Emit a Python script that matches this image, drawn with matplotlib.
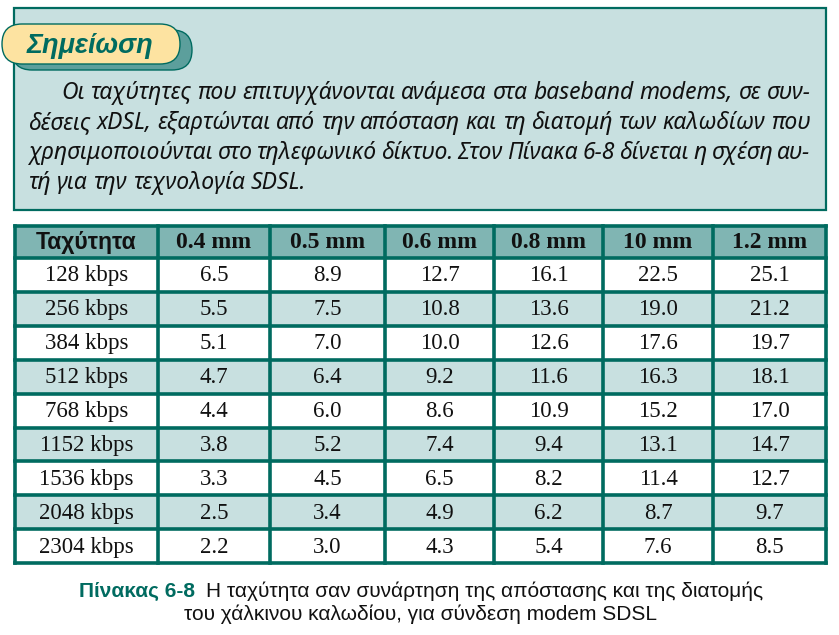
import matplotlib
matplotlib.use("Agg")
import matplotlib.pyplot as plt
from matplotlib.patches import Rectangle, FancyBboxPatch
from matplotlib import font_manager

# --- data ---
note_title = "Σημείωση"
note_lines = [
    "Οι ταχύτητες που επιτυγχάνονται ανάμεσα στα baseband modems, σε συν-",
    "δέσεις xDSL, εξαρτώνται από την απόσταση και τη διατομή των καλωδίων που",
    "χρησιμοποιούνται στο τηλεφωνικό δίκτυο. Στον Πίνακα 6-8 δίνεται η σχέση αυ-",
    "τή για την τεχνολογία SDSL.",
]
columns = ["Ταχύτητα", "0.4 mm", "0.5 mm", "0.6 mm", "0.8 mm", "10 mm", "1.2 mm"]
speeds = ["128 kbps", "256 kbps", "384 kbps", "512 kbps", "768 kbps",
          "1152 kbps", "1536 kbps", "2048 kbps", "2304 kbps"]
d04 = [6.5, 5.5, 5.1, 4.7, 4.4, 3.8, 3.3, 2.5, 2.2]
d05 = [8.9, 7.5, 7.0, 6.4, 6.0, 5.2, 4.5, 3.4, 3.0]
d06 = [12.7, 10.8, 10.0, 9.2, 8.6, 7.4, 6.5, 4.9, 4.3]
d08 = [16.1, 13.6, 12.6, 11.6, 10.9, 9.4, 8.2, 6.2, 5.4]
d10 = [22.5, 19.0, 17.6, 16.3, 15.2, 13.1, 11.4, 8.7, 7.6]
d12 = [25.1, 21.2, 19.7, 18.1, 17.0, 14.7, 12.7, 9.7, 8.5]
caption_label = "Πίνακας 6-8"
caption_line1 = "Η ταχύτητα σαν συνάρτηση της απόστασης και της διατομής"
caption_line2 = "του χάλκινου καλωδίου, για σύνδεση modem SDSL"

# --- colours ---
teal = "#006b60"
light = "#c8e0e0"
header_bg = "#80b5b3"
pill_bg = "#fde3a1"
pill_shadow = "#5c9f9c"


def has_font(name):
    try:
        font_manager.findfont(name, fallback_to_default=False)
        return True
    except Exception:
        return False


narrow = "Liberation Sans Narrow" if has_font("Liberation Sans Narrow") else "Liberation Sans"

W, H = 839, 635
fig = plt.figure(figsize=(W / 100, H / 100), dpi=100)
ax = fig.add_axes([0, 0, 1, 1])
ax.set_xlim(0, W)
ax.set_ylim(H, 0)
ax.axis("off")

# note box
ax.add_patch(Rectangle((14, 8), 812, 202, facecolor=light, edgecolor=teal, lw=1.6))
ax.add_patch(FancyBboxPatch((12, 30), 180, 40, boxstyle="round,pad=0,rounding_size=20",
                            facecolor=pill_shadow, edgecolor=teal, lw=1.0))
ax.add_patch(FancyBboxPatch((2, 24), 178, 40, boxstyle="round,pad=0,rounding_size=20",
                            facecolor=pill_bg, edgecolor=teal, lw=1.0))
ax.text(27, 46, note_title, fontsize=19.5, fontweight="bold", style="italic",
        family="Liberation Sans", color=teal, va="center", ha="left")

renderer = fig.canvas.get_renderer()


def justify(words_line, x0, x1, y, justify_it, **kw):
    words = words_line.split(" ")
    objs = [ax.text(0, y, w, va="center", ha="left", **kw) for w in words]
    widths = [o.get_window_extent(renderer).width for o in objs]
    if justify_it and len(words) > 1:
        gap = (x1 - x0 - sum(widths)) / (len(words) - 1)
    else:
        sp = ax.text(0, y, "a a", **kw)
        sp2 = ax.text(0, y, "aa", **kw)
        gap = sp.get_window_extent(renderer).width - sp2.get_window_extent(renderer).width
        sp.remove()
        sp2.remove()
    x = x0
    for o, wd in zip(objs, widths):
        o.set_x(x)
        x += wd + gap


body_kw = dict(fontsize=16.5, style="italic", family="Noto Sans", color="#111111")
line_y = [93, 123, 153, 183]
for i, (ln, y) in enumerate(zip(note_lines, line_y)):
    x0 = 61 if i == 0 else 28
    justify(ln, x0, 810, y, i < len(note_lines) - 1, **body_kw)

# table
col_x = [15, 158, 270, 385, 494, 603, 713, 826]
top = 226
head_h = 32
row_h = 33.9
values = [d04, d05, d06, d08, d10, d12]

ax.add_patch(Rectangle((col_x[0], top), col_x[-1] - col_x[0], head_h,
                       facecolor=header_bg, edgecolor="none"))
for r in range(len(speeds)):
    y0 = top + head_h + r * row_h
    fc = light if r % 2 == 1 else "white"
    ax.add_patch(Rectangle((col_x[0], y0), col_x[-1] - col_x[0], row_h,
                           facecolor=fc, edgecolor="none"))

bottom = top + head_h + len(speeds) * row_h
for x in col_x:
    ax.plot([x, x], [top, bottom], color=teal, lw=2.6, solid_capstyle="projecting")
for k in range(len(speeds) + 2):
    y = top if k == 0 else top + head_h + (k - 1) * row_h
    ax.plot([col_x[0], col_x[-1]], [y, y], color=teal, lw=2.6, solid_capstyle="projecting")

for c, name in enumerate(columns):
    cx = (col_x[c] + col_x[c + 1]) / 2
    fam = "Liberation Sans" if c == 0 else "Liberation Serif"
    ax.text(cx, top + head_h / 2 + 1, name, ha="center", va="center",
            fontsize=16.5 if c == 0 else 17,
            fontweight="bold", family=fam, color="#111111")

for r, sp in enumerate(speeds):
    cy = top + head_h + (r + 0.5) * row_h + 1
    ax.text((col_x[0] + col_x[1]) / 2, cy, sp, ha="center", va="center",
            fontsize=16.5, family="Liberation Serif", color="#111111")
    for c, col in enumerate(values):
        cx = (col_x[c + 1] + col_x[c + 2]) / 2
        ax.text(cx, cy, f"{col[r]:.1f}", ha="center", va="center",
                fontsize=16.5, family="Liberation Serif", color="#111111")

# caption
cap_kw = dict(fontsize=15, family=narrow, va="center")
lab = ax.text(0, 591, caption_label + "  ", fontweight="bold", color=teal, ha="left", **cap_kw)
rest = ax.text(0, 591, caption_line1, color="#111111", ha="left", **cap_kw)
wl = lab.get_window_extent(renderer).width
wr = rest.get_window_extent(renderer).width
x0 = 421 - (wl + wr) / 2
lab.set_x(x0)
rest.set_x(x0 + wl)
ax.text(421, 614, caption_line2, color="#111111", ha="center", **cap_kw)

fig.savefig("out.png", dpi=100)
